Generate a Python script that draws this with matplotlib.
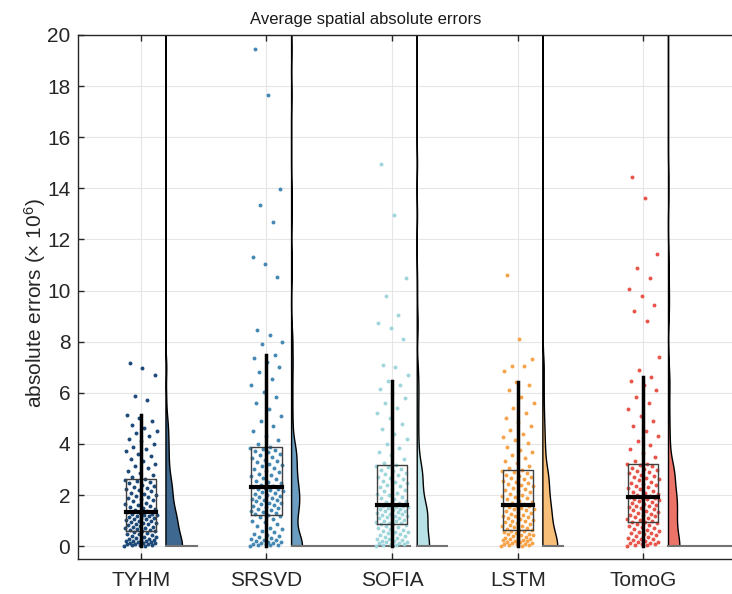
import numpy as np
import matplotlib
matplotlib.use("Agg")
import matplotlib.pyplot as plt
from matplotlib import cbook

plt.rcParams['font.family'] = ['Liberation Sans', 'DejaVu Sans']
plt.rcParams['mathtext.fontset'] = 'custom'
plt.rcParams['mathtext.rm'] = 'Liberation Sans'

methods = ["TYHM", "SRSVD", "SOFIA", "LSTM", "TomoG"]

tyhm = [0.01, 0.02, 0.03, 0.04, 0.05, 0.07, 0.08, 0.09, 0.11, 0.12, 0.14, 0.15, 0.17, 0.19, 0.2,
        0.22, 0.24, 0.26, 0.28, 0.3, 0.32, 0.35, 0.37, 0.4, 0.43, 0.46, 0.49, 0.52, 0.55, 0.58,
        0.61,
        0.63, 0.65, 0.68, 0.7, 0.72, 0.75, 0.77, 0.8, 0.82, 0.85, 0.87, 0.9, 0.92, 0.95, 0.97,
        1.0, 1.02, 1.05, 1.07, 1.1, 1.12, 1.15, 1.17, 1.2, 1.22, 1.24, 1.26, 1.28, 1.3,
        1.32,
        1.36, 1.41, 1.45, 1.49, 1.54, 1.58, 1.62, 1.67, 1.71, 1.75, 1.8, 1.84, 1.88, 1.93, 1.97,
        2.02, 2.06, 2.1, 2.15, 2.19, 2.24, 2.28, 2.32, 2.37, 2.41, 2.46, 2.5, 2.54, 2.58,
        2.62,
        2.7, 2.79, 2.87, 2.96, 3.05, 3.14, 3.23, 3.33, 3.42, 3.52, 3.61, 3.71, 3.8, 3.9, 4.0,
        4.1, 4.2, 4.31, 4.41, 4.52, 4.63, 4.75, 4.88, 5.0, 5.13,
        5.73, 5.87, 6.69, 6.99, 7.16]

srsvd = [0.02, 0.03, 0.05, 0.06, 0.08, 0.1, 0.12, 0.14, 0.16, 0.18, 0.2, 0.23, 0.26, 0.29, 0.32,
         0.36, 0.4, 0.44, 0.49, 0.54, 0.6, 0.66, 0.72, 0.79, 0.86, 0.93, 1.0, 1.07, 1.14, 1.2,
         1.24,
         1.27, 1.31, 1.35, 1.38, 1.42, 1.46, 1.49, 1.53, 1.57, 1.6, 1.64, 1.68, 1.71, 1.75, 1.79,
         1.82, 1.86, 1.9, 1.93, 1.97, 2.01, 2.04, 2.08, 2.12, 2.15, 2.19, 2.22, 2.25, 2.27,
         2.3,
         2.35, 2.4, 2.46, 2.51, 2.57, 2.62, 2.68, 2.73, 2.79, 2.84, 2.9, 2.95, 3.01, 3.06, 3.12,
         3.17, 3.23, 3.28, 3.34, 3.39, 3.45, 3.5, 3.56, 3.61, 3.67, 3.72, 3.78, 3.82, 3.86,
         3.89,
         4.0, 4.15, 4.3, 4.5, 4.7, 4.9, 5.1, 5.35, 5.6, 5.85, 6.05, 6.3, 6.55, 6.8, 7.0, 7.2, 7.35, 7.5,
         7.92, 7.97, 8.25, 8.44, 10.52, 11.04, 11.3, 12.67, 13.36, 13.96, 17.64, 19.45]

sofia = [0.02, 0.03, 0.05, 0.07, 0.09, 0.11, 0.13, 0.15, 0.17, 0.2, 0.22, 0.25, 0.27, 0.3, 0.33,
         0.36, 0.39, 0.42, 0.45, 0.48, 0.51, 0.54, 0.57, 0.6, 0.63, 0.67, 0.71, 0.75, 0.78, 0.82,
         0.85,
         0.87, 0.9, 0.92, 0.95, 0.98, 1.0, 1.03, 1.06, 1.09, 1.11, 1.14, 1.17, 1.2, 1.22, 1.25,
         1.28, 1.31, 1.33, 1.36, 1.39, 1.42, 1.44, 1.47, 1.5, 1.52, 1.55, 1.57, 1.59, 1.61,
         1.63,
         1.68, 1.73, 1.78, 1.84, 1.89, 1.94, 1.99, 2.04, 2.1, 2.15, 2.2, 2.25, 2.31, 2.36, 2.41,
         2.46, 2.52, 2.57, 2.62, 2.67, 2.72, 2.78, 2.83, 2.88, 2.93, 2.98, 3.03, 3.08, 3.12,
         3.16,
         3.25, 3.4, 3.55, 3.7, 3.85, 4.0, 4.2, 4.4, 4.6, 4.8, 5.0, 5.2, 5.4, 5.6, 5.8, 6.0, 6.15, 6.3, 6.46,
         6.7, 7.03, 7.1, 8.11, 8.54, 8.74, 9.06, 9.77, 10.48, 12.96, 14.97]

lstm = [0.01, 0.02, 0.04, 0.05, 0.07, 0.08, 0.1, 0.12, 0.14, 0.16, 0.18, 0.2, 0.22, 0.24, 0.26,
        0.28, 0.3, 0.32, 0.34, 0.37, 0.39, 0.42, 0.44, 0.47, 0.49, 0.52, 0.55, 0.58, 0.6, 0.63,
        0.65,
        0.68, 0.71, 0.74, 0.78, 0.81, 0.84, 0.87, 0.91, 0.94, 0.97, 1.0, 1.04, 1.07, 1.1, 1.14,
        1.17, 1.2, 1.24, 1.27, 1.3, 1.34, 1.37, 1.4, 1.44, 1.47, 1.5, 1.53, 1.56, 1.58,
        1.6,
        1.64, 1.69, 1.74, 1.78, 1.83, 1.88, 1.92, 1.97, 2.02, 2.06, 2.11, 2.15, 2.2, 2.25, 2.29,
        2.34, 2.39, 2.43, 2.48, 2.53, 2.57, 2.62, 2.67, 2.71, 2.76, 2.8, 2.85, 2.9, 2.94,
        2.97,
        3.05, 3.15, 3.25, 3.35, 3.45, 3.56, 3.67, 3.78, 3.9, 4.02, 4.14, 4.26, 4.4, 4.55, 4.7,
        4.85, 5.0, 5.2, 5.4, 5.6, 5.85, 6.1, 6.29, 6.43,
        6.85, 7.04, 7.07, 7.33, 8.12, 10.62]

tomog = [0.01, 0.03, 0.05, 0.07, 0.09, 0.11, 0.13, 0.16, 0.18, 0.21, 0.24, 0.27, 0.3, 0.33, 0.36,
         0.39, 0.43, 0.46, 0.5, 0.53, 0.57, 0.6, 0.64, 0.67, 0.71, 0.74, 0.78, 0.82, 0.86, 0.9,
         0.93,
         0.96, 1.0, 1.03, 1.07, 1.1, 1.14, 1.17, 1.21, 1.24, 1.28, 1.31, 1.35, 1.38, 1.42, 1.45,
         1.49, 1.52, 1.56, 1.59, 1.63, 1.66, 1.7, 1.73, 1.77, 1.8, 1.83, 1.85, 1.87, 1.89,
         1.91,
         1.95, 1.99, 2.04, 2.08, 2.13, 2.17, 2.22, 2.26, 2.31, 2.35, 2.4, 2.44, 2.49, 2.53, 2.58,
         2.62, 2.67, 2.71, 2.76, 2.8, 2.85, 2.89, 2.94, 2.98, 3.03, 3.07, 3.12, 3.16, 3.2,
         3.23,
         3.35, 3.5, 3.65, 3.8, 3.95, 4.1, 4.3, 4.5, 4.7, 4.9, 5.1, 5.35, 5.6, 5.85, 6.1, 6.3, 6.48, 6.63,
         6.9, 7.4, 8.8, 9.2, 9.45, 9.8, 10.05, 10.5, 10.9, 11.45, 13.63, 14.44]

# length of the thin density spike at zero for each cloud (x units)
spike = [0.25, 0.94, 0.24, 0.16, 1.4]

dot_colors = ['#1d4a78', '#4589b3', '#9ed6dc', '#f6a34a', '#e8554b']
cloud_colors = ['#3e6890', '#6a9dc0', '#b7e1e5', '#f8bf78', '#ec7367']

groups = [tyhm, srsvd, sofia, lstm, tomog]

fig = plt.figure(figsize=(7.32, 5.94), dpi=100)
ax = fig.add_axes([78 / 732, 35 / 594, 691 / 732, 524 / 594])

ygrid = np.linspace(0, 25, 1000)
bw = 0.4
for i, vals in enumerate(groups):
    pos = i + 1
    v = np.array(vals)
    n = len(v)

    # jittered dots
    off = ((np.arange(n) * 0.618034) % 1 - 0.5) * 0.26
    ax.scatter(pos + off, v, s=8, color=dot_colors[i], linewidths=0, zorder=2)

    # half violin: kernel density reflected at zero
    k = np.exp(-0.5 * ((ygrid[:, None] - v[None, :]) / bw) ** 2) + \
        np.exp(-0.5 * ((ygrid[:, None] + v[None, :]) / bw) ** 2)
    dens = k.sum(axis=1) / (n * bw * np.sqrt(2 * np.pi))
    x0 = pos + 0.2
    xs = np.concatenate([x0 + dens * 0.3, [x0, x0]])
    ys = np.concatenate([ygrid, [ygrid[-1], 0]])
    ax.fill(xs, ys, facecolor=cloud_colors[i], edgecolor='black', linewidth=1.0, zorder=2)
    ax.plot([x0, x0 + spike[i]], [0, 0], color='0.45', linewidth=1.5, zorder=2)

    # box, whisker, median
    st = cbook.boxplot_stats(v, whis=1.5)[0]
    hw = 0.12
    ax.plot([pos - hw, pos + hw, pos + hw, pos - hw, pos - hw],
            [st['q1'], st['q1'], st['q3'], st['q3'], st['q1']],
            color='0.25', linewidth=1.0, zorder=3)
    ax.plot([pos, pos], [st['whislo'], st['whishi']], color='black', linewidth=2.5, zorder=4)
    ax.plot([pos - hw, pos + hw], [st['med'], st['med']], color='black', linewidth=3, zorder=5)

ax.set_xlim(0.5, 6.0)
ax.set_ylim(-0.5, 20)
ax.set_yticks(range(0, 21, 2))
ax.set_xticks(range(1, 6))
ax.set_xticklabels(methods)
ax.grid(True, color='#e6e6e6', linewidth=0.8)
ax.set_axisbelow(True)
ax.tick_params(direction='in', length=4, width=1, top=True, labelsize=15, colors='0.15')
ax.tick_params(axis='x', pad=9)
ax.tick_params(axis='y', pad=5.5)
for s in ax.spines.values():
    s.set_color('0.15')
    s.set_linewidth(1.0)

ax.set_ylabel(r'absolute errors (× $\mathregular{10^6}$)', fontsize=15, color='0.15')
ax.yaxis.set_label_coords(-0.044, 0.488)
fig.text(0.5, 1 - 24 / 594, 'Average spatial absolute errors', ha='center', va='baseline',
         fontsize=12, color='0.1')

fig.savefig('out.png', dpi=100)
